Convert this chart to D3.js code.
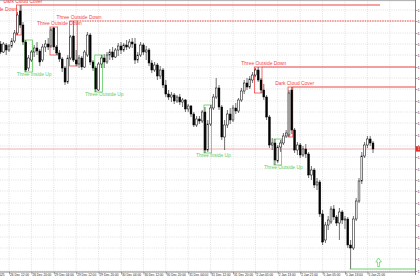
<!DOCTYPE html>
<html><head><meta charset="utf-8">
<script src="https://cdn.jsdelivr.net/npm/d3@7"></script>
<style>html,body{margin:0;padding:0;background:#fff;overflow:hidden}svg{display:block}</style>
</head><body>
<svg id="c" width="420" height="280"></svg>
<script>
// ---- data (hourly bars, 26 Dec 09:00 .. 5 Jan 23:00) ----
const opens = [1.2256,1.2248,1.2255,1.2250,1.2254,1.2259,1.2267,1.2289,1.2275,1.2258,
1.2232,1.2240,1.2248,1.2252,1.2249,1.2240,1.2253,1.2256,1.2254,1.2272,
1.2253,1.2247,1.2241,1.2232,1.2218,1.2242,1.2264,1.2240,1.2236,1.2242,
1.2233,1.2245,1.2265,1.2238,1.2232,1.2210,1.2236,1.2242,1.2238,1.2245,
1.2248,1.2243,1.2250,1.2254,1.2250,1.2255,1.2253,1.2258,1.2256,1.2240,
1.2245,1.2255,1.2248,1.2250,1.2237,1.2230,1.2235,1.2224,1.2230,1.2215,
1.2206,1.2203,1.2205,1.2199,1.2203,1.2198,1.2200,1.2191,1.2194,1.2186,
1.2175,1.2181,1.2179,1.2188,1.2150,1.2176,1.2192,1.2203,1.2212,1.2193,
1.2163,1.2175,1.2186,1.2180,1.2192,1.2189,1.2200,1.2209,1.2217,1.2213,
1.2220,1.2225,1.2230,1.2220,1.2210,1.2203,1.2183,1.2155,1.2157,1.2139,
1.2153,1.2157,1.2164,1.2165,1.2210,1.2170,1.2150,1.2155,1.2145,1.2151,
1.2146,1.2125,1.2130,1.2115,1.2118,1.2086,1.2060,1.2075,1.2078,1.2091,
1.2083,1.2077,1.2088,1.2080,1.2081,1.2055,1.2052,1.2081,1.2099,1.2119,
1.2144,1.2155,1.2161,1.2157];
const highs = [1.2259,1.2258,1.2257,1.2256,1.2262,1.2270,1.2288,1.2295,1.2278,1.2260,
1.2245,1.2250,1.2255,1.2258,1.2251,1.2256,1.2260,1.2262,1.2272,1.2273,
1.2255,1.2250,1.2243,1.2234,1.2245,1.2265,1.2279,1.2250,1.2245,1.2244,
1.2250,1.2268,1.2267,1.2240,1.2234,1.2238,1.2245,1.2246,1.2248,1.2251,
1.2253,1.2252,1.2257,1.2258,1.2257,1.2260,1.2261,1.2262,1.2262,1.2248,
1.2258,1.2257,1.2254,1.2252,1.2240,1.2238,1.2237,1.2234,1.2232,1.2220,
1.2210,1.2208,1.2207,1.2205,1.2206,1.2202,1.2201,1.2196,1.2195,1.2188,
1.2184,1.2184,1.2190,1.2193,1.2180,1.2195,1.2206,1.2222,1.2215,1.2195,
1.2180,1.2190,1.2192,1.2195,1.2197,1.2202,1.2212,1.2220,1.2222,1.2224,
1.2228,1.2232,1.2233,1.2222,1.2216,1.2205,1.2185,1.2162,1.2161,1.2155,
1.2160,1.2167,1.2170,1.2210,1.2213,1.2172,1.2158,1.2157,1.2154,1.2156,
1.2148,1.2134,1.2132,1.2122,1.2120,1.2090,1.2078,1.2084,1.2094,1.2095,
1.2085,1.2092,1.2090,1.2084,1.2083,1.2060,1.2084,1.2102,1.2122,1.2148,
1.2158,1.2164,1.2164,1.2159];
const lows = [1.2246,1.2247,1.2245,1.2248,1.2252,1.2257,1.2265,1.2272,1.2255,1.2228,
1.2229,1.2238,1.2243,1.2245,1.2234,1.2238,1.2248,1.2250,1.2252,1.2250,
1.2245,1.2238,1.2228,1.2215,1.2216,1.2240,1.2238,1.2234,1.2232,1.2230,
1.2232,1.2243,1.2235,1.2229,1.2208,1.2209,1.2232,1.2232,1.2236,1.2240,
1.2240,1.2242,1.2244,1.2246,1.2248,1.2250,1.2251,1.2252,1.2236,1.2237,
1.2243,1.2245,1.2240,1.2234,1.2227,1.2228,1.2220,1.2221,1.2212,1.2203,
1.2200,1.2198,1.2196,1.2197,1.2195,1.2193,1.2188,1.2188,1.2183,1.2173,
1.2173,1.2176,1.2177,1.2147,1.2148,1.2174,1.2190,1.2201,1.2190,1.2160,
1.2150,1.2172,1.2176,1.2178,1.2186,1.2187,1.2198,1.2206,1.2210,1.2211,
1.2217,1.2223,1.2218,1.2207,1.2200,1.2180,1.2152,1.2150,1.2135,1.2137,
1.2148,1.2155,1.2162,1.2163,1.2166,1.2147,1.2145,1.2142,1.2143,1.2142,
1.2122,1.2120,1.2112,1.2110,1.2083,1.2055,1.2057,1.2070,1.2076,1.2080,
1.2074,1.2060,1.2076,1.2071,1.2052,1.2031,1.2050,1.2079,1.2097,1.2116,
1.2142,1.2152,1.2154,1.2147];
const closes = [1.2248,1.2256,1.2250,1.2254,1.2259,1.2267,1.2285,1.2275,1.2258,1.2230,
1.2242,1.2248,1.2252,1.2249,1.2238,1.2253,1.2256,1.2253,1.2270,1.2253,
1.2247,1.2241,1.2232,1.2218,1.2242,1.2263,1.2240,1.2236,1.2242,1.2233,
1.2248,1.2265,1.2238,1.2232,1.2211,1.2236,1.2242,1.2238,1.2245,1.2248,
1.2243,1.2250,1.2254,1.2250,1.2255,1.2253,1.2258,1.2256,1.2240,1.2245,
1.2255,1.2248,1.2250,1.2237,1.2230,1.2235,1.2224,1.2230,1.2215,1.2206,
1.2203,1.2205,1.2199,1.2203,1.2198,1.2200,1.2191,1.2194,1.2186,1.2175,
1.2181,1.2179,1.2188,1.2150,1.2176,1.2192,1.2203,1.2212,1.2193,1.2163,
1.2175,1.2186,1.2180,1.2192,1.2189,1.2200,1.2209,1.2217,1.2213,1.2221,
1.2225,1.2230,1.2220,1.2210,1.2203,1.2183,1.2155,1.2157,1.2140,1.2153,
1.2157,1.2164,1.2167,1.2207,1.2170,1.2150,1.2155,1.2145,1.2151,1.2146,
1.2125,1.2130,1.2115,1.2118,1.2086,1.2058,1.2075,1.2080,1.2091,1.2083,
1.2077,1.2088,1.2080,1.2081,1.2055,1.2052,1.2081,1.2099,1.2119,1.2144,
1.2155,1.2161,1.2157,1.2151];

const timeTickBars = [3,11,19,27,35,43,51,59,67,75,83,91,99,107,115,123,131];
const timeTickLabels = ["26 Dec 12:00","26 Dec 20:00","29 Dec 04:00","29 Dec 12:00","29 Dec 20:00",
  "30 Dec 04:00","30 Dec 12:00","30 Dec 20:00","31 Dec 04:00","31 Dec 12:00","31 Dec 20:00",
  "2 Jan 05:00","2 Jan 13:00","2 Jan 21:00","5 Jan 05:00","5 Jan 13:00","5 Jan 21:00"];
const firstDateLabel = "26 Dec 2025";
const priceTicks = [1.2290,1.2279,1.2267,1.2256,1.2245,1.2233,1.2222,1.2211,1.2199,1.2188,1.2177,1.2165,
  1.2154,1.2143,1.2131,1.2120,1.2109,1.2097,1.2086,1.2075,1.2063,1.2052,1.2041,1.2029];

const patternNames = ["Dark Cloud Cover","Three Inside Up","Three Outside Down","Three Outside Down",
  "Three Outside Up","Three Inside Up","Three Outside Down","Three Outside Up","Dark Cloud Cover"];
const patternStart = [6,9,18,25,34,73,91,98,103];
const patternEnd   = [7,11,20,27,36,75,93,100,104];
const patternBull  = [false,true,false,false,true,true,false,true,false];
// off-chart pattern whose label is partly visible at the left edge
const offName = "Three Outside Down", offEnd = -3, offHigh = 1.2287;
// resistance lines drawn from bearish patterns (pattern index, end bar or null = to axis, dotted)
const levelPattern = [0,3,6,8];
const levelEndBar  = [135.5,null,null,null];
const levelDotted  = [false,true,false,false];
const supportBar = 125, arrowBar = 135;

// ---- drawing ----
const svg = d3.select("#c");
const n = opens.length;
const x = d3.scaleLinear().domain([0, n - 1]).range([0.6, 373.0]);
const y = d3.scaleLinear().domain([1.2300, 1.2020]).range([0, 280]);
const R = 415.5, B = 272;
const FONT = "'Liberation Sans', Arial, sans-serif";
const RED = "#f04646", GREEN = "#5fcc5f";

// grid
const grid = svg.append("g").attr("stroke", "#d4d4d4").attr("stroke-width", 0.7).attr("stroke-dasharray", "1,1.2");
grid.selectAll("line.v").data(timeTickBars.concat([139])).join("line")
  .attr("x1", d => x(d)).attr("x2", d => x(d)).attr("y1", 0).attr("y2", B);
grid.selectAll("line.h").data(priceTicks).join("line")
  .attr("x1", 0).attr("x2", R).attr("y1", d => y(d)).attr("y2", d => y(d));

// frame
svg.append("line").attr("x1", 0).attr("x2", R).attr("y1", 0.6).attr("y2", 0.6).attr("stroke", "#999").attr("stroke-width", 0.8);

// bid line
const bid = closes[n - 1];
svg.append("line").attr("x1", 0).attr("x2", R).attr("y1", y(bid)).attr("y2", y(bid))
  .attr("stroke", "#e99a9a").attr("stroke-width", 0.8);

// pattern boxes
const pats = patternNames.map((name, k) => {
  const a = patternStart[k], b = patternEnd[k];
  const hi = d3.max(highs.slice(a, b + 1)), lo = d3.min(lows.slice(a, b + 1));
  return {name, a, b, hi, lo, bull: patternBull[k]};
});
const pg = svg.append("g");
pg.selectAll("rect").data(pats).join("rect")
  .attr("x", d => x(d.a) - 1).attr("width", d => x(d.b) - x(d.a) + 2)
  .attr("y", d => y(d.hi)).attr("height", d => y(d.lo) - y(d.hi))
  .attr("fill", "none").attr("stroke", d => d.bull ? GREEN : RED).attr("stroke-width", 0.8);

// level lines
levelPattern.forEach((k, j) => {
  const p = pats[k];
  svg.append("line")
    .attr("x1", x(p.b) + 1).attr("x2", levelEndBar[j] == null ? R : x(levelEndBar[j]))
    .attr("y1", y(p.hi)).attr("y2", y(p.hi))
    .attr("stroke", RED).attr("stroke-width", levelDotted[j] ? 1 : 1.1)
    .attr("stroke-dasharray", levelDotted[j] ? "1.5,1" : null);
});

// candles
const bars = d3.range(n).map(i => ({i, o: opens[i], h: highs[i], l: lows[i], c: closes[i]}));
const cg = svg.append("g");
cg.selectAll("line").data(bars).join("line")
  .attr("x1", d => x(d.i)).attr("x2", d => x(d.i))
  .attr("y1", d => y(d.h)).attr("y2", d => y(d.l))
  .attr("stroke", "#111").attr("stroke-width", 0.6);
cg.selectAll("rect").data(bars).join("rect")
  .attr("x", d => x(d.i) - 0.9).attr("width", 1.8)
  .attr("y", d => y(Math.max(d.o, d.c)))
  .attr("height", d => Math.max(0.5, Math.abs(y(d.o) - y(d.c))))
  .attr("fill", d => d.c >= d.o ? "#fff" : "#000")
  .attr("stroke", "#000").attr("stroke-width", 0.5);

// pattern labels
const lg = svg.append("g").attr("font-family", FONT).attr("font-size", 4.9).attr("text-anchor", "middle");
lg.selectAll("text").data(pats).join("text")
  .attr("x", d => x(d.b + 1))
  .attr("y", d => d.bull ? y(d.lo) + 3.6 : y(d.hi) - 2)
  .attr("fill", d => d.bull ? GREEN : RED)
  .text(d => d.name);
lg.append("text").attr("x", x(offEnd + 1)).attr("y", y(offHigh) - 2).attr("fill", RED).text(offName);

// support line + arrow
const sy = y(lows[supportBar]);
svg.append("line").attr("x1", x(supportBar) - 1).attr("x2", R).attr("y1", sy).attr("y2", sy)
  .attr("stroke", GREEN).attr("stroke-width", 0.9);
const ax = x(arrowBar), ab = sy - 2.5;
svg.append("path")
  .attr("d", `M${ax-1},${ab} L${ax-1},${ab-4.5} L${ax-2.8},${ab-4.5} L${ax},${ab-8.5} L${ax+2.8},${ab-4.5} L${ax+1},${ab-4.5} L${ax+1},${ab} Z`)
  .attr("fill", "#fff").attr("stroke", GREEN).attr("stroke-width", 0.7);

// axes
const xAxis = d3.axisBottom(x).tickValues(timeTickBars).tickSize(2.5).tickFormat("");
const xg = svg.append("g").attr("transform", `translate(0,${B})`).call(xAxis);
xg.select(".domain").attr("d", `M0,0H${R}`).attr("stroke", "#666").attr("stroke-width", 0.8);
xg.selectAll(".tick line").attr("stroke", "#666").attr("stroke-width", 0.6);
const tl = svg.append("g").attr("font-family", FONT).attr("font-size", 3.2).attr("fill", "#222");
tl.selectAll("text").data(timeTickBars).join("text")
  .attr("x", d => x(d) + 1).attr("y", 275.8).text((d, i) => timeTickLabels[i]);
tl.append("text").attr("x", x(1.4)).attr("y", 275.8).attr("text-anchor", "end").text(firstDateLabel);

const yAxis = d3.axisRight(y).tickValues(priceTicks).tickSize(2).tickFormat(d3.format(".4f"));
const yg = svg.append("g").attr("transform", `translate(${R},0)`).call(yAxis);
yg.select(".domain").attr("d", `M0,0V${B + 3}`).attr("stroke", "#666").attr("stroke-width", 0.8);
yg.selectAll(".tick line").attr("stroke", "#666").attr("stroke-width", 0.6);
yg.selectAll(".tick text").attr("x", 2.3).attr("dy", "0.35em").attr("font-size", 3.3)
  .attr("font-family", FONT).attr("fill", "#222");

// bid label
svg.append("rect").attr("x", R + 0.5).attr("y", y(bid) - 2.6).attr("width", 8).attr("height", 5.2).attr("fill", "#e52a2a");
svg.append("text").attr("x", R + 2.3).attr("y", y(bid) + 1.2).attr("font-family", FONT).attr("font-size", 3.3)
  .attr("fill", "#fff").text(d3.format(".4f")(bid));
</script>
</body></html>
